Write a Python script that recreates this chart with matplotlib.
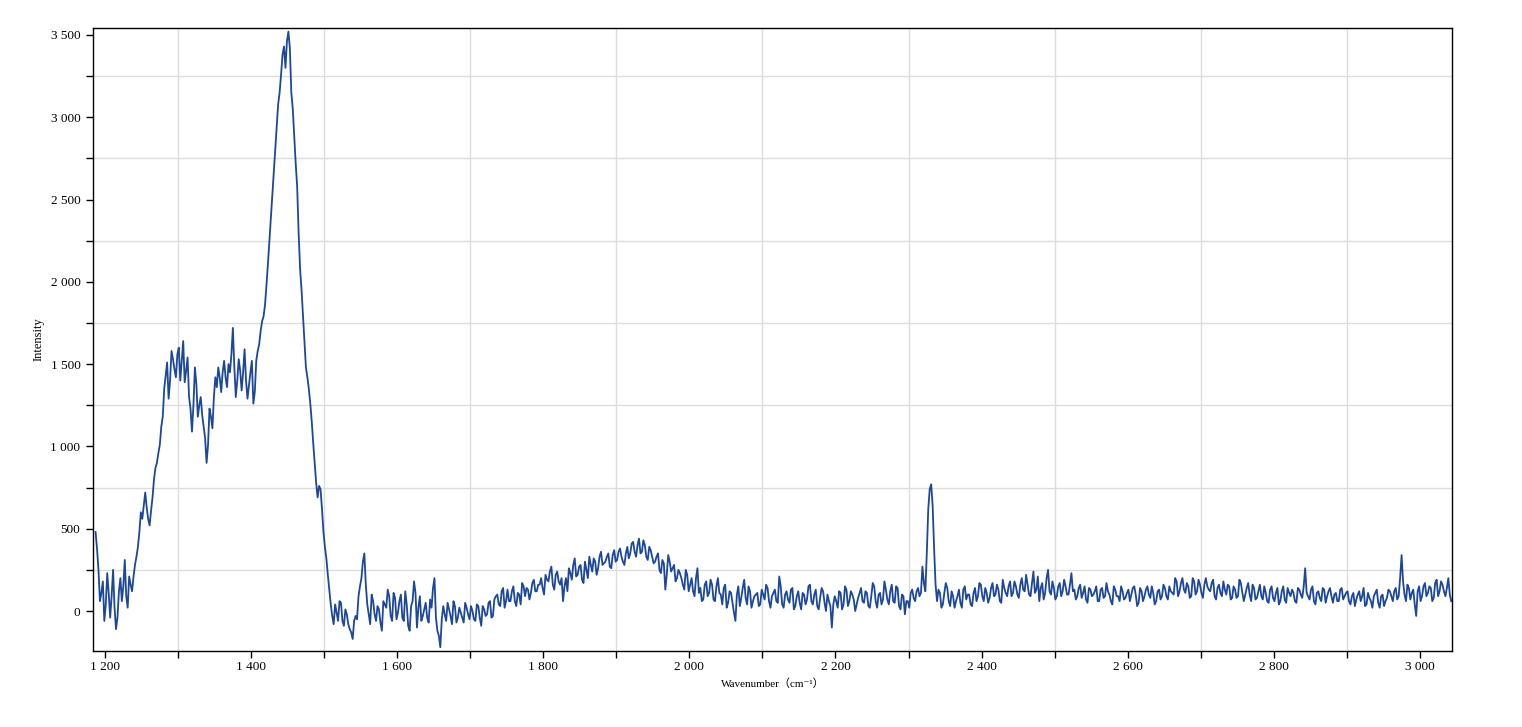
import numpy as np
import matplotlib
matplotlib.use("Agg")
from matplotlib import pyplot as plt
from matplotlib.ticker import MultipleLocator, FuncFormatter

# spectrum, split into bands.
# main values sit every 4 cm-1 from the band start, mid values 2 cm-1 after each
band_start = [1187, 1519, 1723, 2003, 2319, 2603, 2803]
step = 4

band1 = [480, 250, 110, -60, 230, -40, 250, -110, 120, 60, 310, 20, 160, 210, 330, 480,
         560, 720, 560, 610, 800, 900, 1010, 1180, 1430, 1290, 1580, 1470, 1560, 1400,
         1640, 1460, 1300, 1090, 1480, 1180, 1300, 1120, 900, 1230, 1110, 1420, 1480,
         1330, 1520, 1360, 1450, 1720, 1300, 1530, 1340, 1590, 1290, 1450, 1260, 1520,
         1620, 1760, 1860, 2110, 2380, 2680, 2950, 3150, 3380, 3300, 3520, 3150, 2880,
         2580, 2080, 1790, 1480, 1350, 1150, 900, 690, 740, 480, 320, 130, -30, 40]
band2 = [-60, 50, -90, -20, -110, -170, -30, 90, 200, 350, 40, -80, 60, -60, 10, -120,
         40, 130, -30, 110, -50, 60, -40, 120, -90, 30, 180, -100, 90, -30, 50, -70, 20,
         200, -120, -220, 30, -60, 10, -80, 30, -40, -10, -70, 20, -50, 0, -60, 30, -90, 10]
band3 = [-20, 60, -30, 90, 40, 120, 20, 130, 60, 150, 30, 100, 170, 90, 130, 110, 190,
         120, 160, 140, 220, 180, 270, 130, 240, 160, 60, 200, 260, 190, 320, 220, 280,
         170, 250, 330, 240, 300, 260, 360, 290, 330, 270, 340, 300, 360, 330, 280, 390,
         350, 420, 330, 440, 360, 400, 310, 370, 290, 330, 250, 310, 130, 340, 240, 280,
         200, 230, 160, 250, 120]
band4 = [200, 90, 260, 140, 70, 180, 110, 160, 60, 200, 100, 140, 20, 120, 50, -60, 150,
         80, 190, 40, 120, 60, 100, 30, 130, 70, 140, 20, 110, 60, 210, 40, 100, 70, 130,
         10, 90, 50, 110, 40, 150, 60, 100, 30, 80, 120, 0, 60, -100, 90, 20, 110, 40, 130,
         60, 100, 0, 80, 140, 50, 110, 20, 170, 60, 100, 40, 180, 70, 120, 60, 150, 30,
         100, -20, 60, 110, 80, 120, 90]
band5 = [270, 120, 620, 770, 380, 60, 110, 40, 170, 60, 120, 20, 90, 50, 130, 70, 100, 30,
         140, 90, 160, 60, 110, 80, 170, 100, 130, 50, 140, 90, 180, 110, 150, 80, 200, 120,
         160, 90, 240, 130, 60, 170, 110, 250, 100, 140, 90, 170, 120, 150, 100, 230, 130,
         90, 160, 110, 70, 140, 90, 120, 60, 130, 80, 170, 100, 40, 130, 90, 150, 70, 110]
band6 = [60, 140, 100, 50, 120, 90, 150, 80, 110, 60, 130, 90, 140, 70, 120, 100, 180, 120,
         200, 110, 150, 90, 180, 120, 160, 80, 200, 130, 170, 90, 140, 110, 180, 100, 150,
         80, 130, 90, 170, 60, 140, 100, 160, 70, 120, 90, 150, 60, 130, 80]
band7 = [110, 40, 120, 70, 140, 90, 110, 50, 130, 80, 260, 90, 130, 60, 110, 80, 140, 50,
         120, 90, 100, 60, 130, 70, 110, 60, 90, 30, 100, 60, 140, 40, 80, 20, 110, 50, 90,
         30, 80, 120, 60, 140, 90, 340, 100, 160, 70, 130, -30, 150, 90, 170, 110, 140, 80,
         190, 120, 160, 90, 200, 60]

mid1 = [380, 60, 180, 40, 110, 90, 20, -40, 200, 150, 90, 210, 120, 280, 390, 600, 640,
        630, 520, 690, 870, 960, 1120, 1350, 1510, 1400, 1530, 1420, 1600, 1520, 1390,
        1540, 1230, 1250, 1380, 1250, 1190, 1050, 1010, 1180, 1300, 1360, 1420, 1450, 1420,
        1500, 1560, 1480, 1400, 1460, 1450, 1400, 1370, 1520, 1330, 1580, 1700, 1790, 1980,
        2250, 2540, 2800, 3080, 3260, 3430, 3460, 3420, 3050, 2720, 2300, 1950, 1620, 1420,
        1260, 1020, 780, 760, 620, 390, 220, 40, -80, -10]
mid2 = [60, -60, 10, -80, -130, -60, -50, 150, 300, 160, -20, 100, -20, 30, -70, 60, 20,
        90, -60, 80, -10, 100, -60, 40, -120, 60, 110, 20, -60, 10, -40, 70, 140, -40,
        -150, -50, -20, 50, -30, 60, -70, 20, -40, 50, -20, 30, -50, 40, -40, 30, -30]
mid3 = [50, -40, 70, 100, 30, 140, 60, 60, 120, 60, 110, 40, 150, 140, 70, 170, 120, 160,
        200, 100, 190, 240, 160, 220, 180, 200, 150, 120, 230, 280, 210, 270, 190, 300, 200,
        280, 320, 220, 330, 280, 300, 350, 260, 370, 310, 380, 300, 350, 320, 410, 360, 400,
        350, 430, 330, 390, 330, 300, 350, 230, 290, 220, 300, 260, 180, 250, 200, 130,
        220, 160]
mid4 = [120, 200, 110, 60, 160, 90, 190, 70, 150, 110, 40, 160, 50, 110, -10, 100, 30, 140,
        80, 150, 20, 90, 110, 40, 100, 160, 60, 90, 130, 50, 150, 20, 120, 50, 140, 30, 120,
        10, 100, 70, 160, 40, 130, 10, 140, 50, 100, 30, 40, 60, 120, 10, 150, 30, 120, 70,
        40, 110, 60, 120, 30, 90, 150, 20, 110, 70, 130, 40, 160, 50, 140, 10, 90, 60, 20,
        130, 60, 140, 110]
mid5 = [170, 350, 740, 640, 160, 130, 20, 110, 140, 30, 90, 60, 130, 20, 150, 100, 40, 110,
        60, 170, 90, 140, 50, 140, 90, 160, 60, 190, 110, 150, 90, 180, 100, 160, 130, 220,
        100, 170, 110, 210, 140, 70, 200, 120, 180, 70, 150, 90, 190, 100, 160, 120, 70,
        140, 80, 150, 50, 130, 100, 150, 60, 140, 90, 120, 60, 150, 90, 60, 120, 80, 130]
mid6 = [100, 150, 30, 140, 60, 130, 100, 150, 40, 120, 70, 160, 90, 150, 110, 200, 90, 170,
        130, 170, 80, 200, 100, 190, 110, 160, 150, 120, 190, 70, 160, 90, 130, 160, 70, 150,
        80, 190, 110, 100, 170, 60, 140, 80, 160, 70, 110, 50, 150, 60]
mid7 = [140, 60, 150, 50, 110, 130, 60, 140, 100, 150, 110, 70, 150, 40, 120, 60, 130, 90,
        140, 50, 110, 60, 140, 90, 120, 40, 110, 70, 120, 90, 30, 110, 60, 90, 130, 20, 100,
        60, 130, 90, 120, 70, 200, 180, 60, 140, 110, 40, 120, 60, 150, 90, 150, 60, 170, 90,
        180, 120, 140, 100]

bands = [band1, band2, band3, band4, band5, band6, band7]
mids = [mid1, mid2, mid3, mid4, mid5, mid6, mid7]

x_ticks = [1200, 1400, 1600, 1800, 2000, 2200, 2400, 2600, 2800, 3000]
y_ticks = [0, 500, 1000, 1500, 2000, 2500, 3000, 3500]

xs, ys = [], []
for s, b, m in zip(band_start, bands, mids):
    xs.append(s + step * np.arange(len(b)))
    ys.append(np.array(b, dtype=float))
    xs.append(s + step / 2 + step * np.arange(len(m)))
    ys.append(np.array(m, dtype=float))
wavenumber = np.concatenate(xs)
intensity = np.concatenate(ys)
order = np.argsort(wavenumber, kind="stable")
wavenumber = wavenumber[order]
intensity = intensity[order]

plt.rcParams["font.family"] = ["Liberation Serif", "Noto Sans CJK SC", "DejaVu Serif"]

fig = plt.figure(figsize=(15.22, 7.27), dpi=100)
ax = fig.add_axes([0.0611, 0.1045, 0.8929, 0.857])

ax.plot(wavenumber, intensity, color="#1d4799", linewidth=1.3)

ax.set_xlim(1183.5, 3044)
ax.set_ylim(-243, 3542)

ax.set_xticks(x_ticks)
ax.set_yticks(y_ticks)
ax.xaxis.set_minor_locator(MultipleLocator(100))
ax.yaxis.set_minor_locator(MultipleLocator(250))
ax.xaxis.set_minor_formatter(FuncFormatter(lambda v, p: ""))
fmt = FuncFormatter(lambda v, p: f"{v:,.0f}".replace(",", " "))
ax.xaxis.set_major_formatter(fmt)
ax.yaxis.set_major_formatter(fmt)

# grid only on the in-between (minor) positions, like the original
ax.grid(which="minor", color="#dcdcdc", linewidth=1.0)
ax.grid(which="major", visible=False)
ax.set_axisbelow(True)

ax.tick_params(which="both", direction="out", top=False, right=False,
               width=1, labelsize=9.5, colors="black")
ax.tick_params(which="major", length=5)
ax.tick_params(axis="y", which="major", pad=4)
ax.tick_params(axis="x", which="major", pad=2)
ax.tick_params(which="minor", length=5)
for s in ax.spines.values():
    s.set_linewidth(1.0)
    s.set_color("black")

ax.set_xlabel("Wavenumber（cm⁻¹）", fontsize=8, labelpad=4)
ax.set_ylabel("Intensity", fontsize=9, labelpad=4)

fig.savefig("out.png", dpi=100)
